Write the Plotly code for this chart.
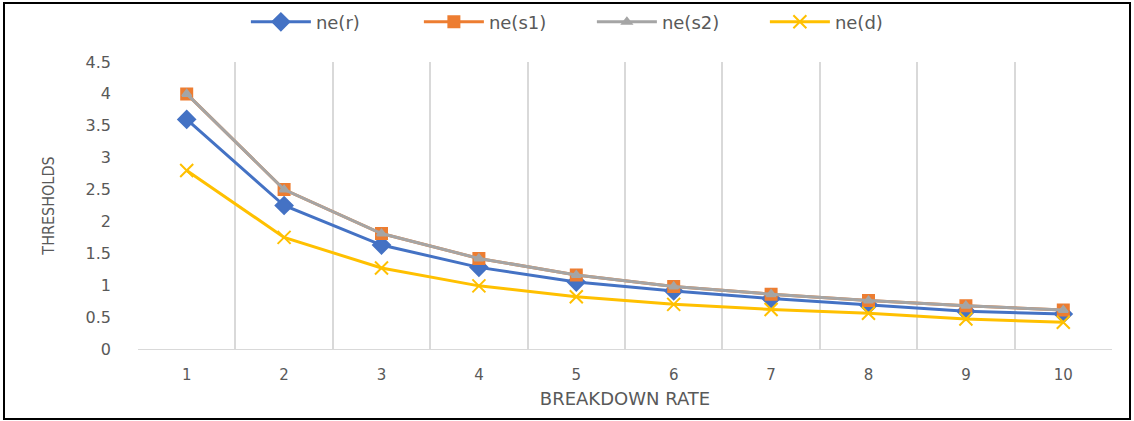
import plotly.graph_objects as go

# Breakdown rate categories and threshold series
rates = [1, 2, 3, 4, 5, 6, 7, 8, 9, 10]
ne_r = [3.6, 2.25, 1.63, 1.28, 1.05, 0.91, 0.79, 0.69, 0.59, 0.55]
ne_s1 = [4.0, 2.5, 1.81, 1.42, 1.16, 0.98, 0.86, 0.76, 0.68, 0.61]
ne_s2 = [4.0, 2.5, 1.81, 1.42, 1.16, 0.98, 0.86, 0.76, 0.68, 0.61]
ne_d = [2.8, 1.75, 1.27, 0.99, 0.82, 0.7, 0.62, 0.56, 0.47, 0.42]
y_ticks = [0, 0.5, 1, 1.5, 2, 2.5, 3, 3.5, 4, 4.5]
y_tick_text = ["0", "0.5", "1", "1.5", "2", "2.5", "3", "3.5", "4", "4.5"]

series = [
    ("ne(r)", ne_r, "#4472C4", "diamond", 13),
    ("ne(s1)", ne_s1, "#ED7D31", "square", 11),
    ("ne(s2)", ne_s2, "#A5A5A5", "triangle-up", 8),
    ("ne(d)", ne_d, "#FFC000", "x-thin", 13),
]

TEXT = "#595959"
FONT = "DejaVu Sans, sans-serif"

fig = go.Figure()
for name, vals, color, symbol, size in series:
    fig.add_trace(go.Scatter(
        x=rates, y=vals, name=name, mode="lines+markers",
        line=dict(color=color, width=3),
        marker=dict(symbol=symbol, size=size, color=color,
                    line=dict(color=color, width=2)),
    ))

fig.update_layout(
    width=1134, height=421,
    margin=dict(l=138, r=22, t=62, b=72, autoexpand=False),
    paper_bgcolor="white", plot_bgcolor="white",
    font=dict(family=FONT, color=TEXT, size=14),
    legend=dict(orientation="h", x=0.466, xanchor="center", y=1.139, yanchor="middle",
                font=dict(size=18, color=TEXT), itemwidth=60,
                entrywidth=98, entrywidthmode="pixels",
                bgcolor="rgba(0,0,0,0)"),
    xaxis=dict(
        range=[0.5, 10.5], tickvals=rates, ticktext=[str(r) for r in rates],
        showgrid=False, zeroline=False, showline=True, linecolor="#D9D9D9", linewidth=1,
        ticks="", ticklabelstandoff=12,
        minor=dict(tick0=0.5, dtick=1, showgrid=True, gridcolor="#D9D9D9", gridwidth=1.5),
        title=dict(text="BREAKDOWN RATE", font=dict(size=18, color=TEXT), standoff=9),
        tickfont=dict(size=15, color=TEXT),
    ),
    yaxis=dict(
        range=[0, 4.5], tickvals=y_ticks, ticktext=y_tick_text,
        showgrid=False, zeroline=False, showline=False, ticks="",
        ticklabelstandoff=26,
        title=dict(text="THRESHOLDS",
                   font=dict(size=16, color=TEXT, family="DejaVu Sans Condensed, Liberation Sans Narrow"),
                   standoff=26),
        tickfont=dict(size=16, color=TEXT),
    ),
    shapes=[dict(type="rect", xref="paper", yref="paper",
                 x0=-134 / 974, x1=992 / 974, y0=-70 / 287, y1=346 / 287,
                 line=dict(color="black", width=2), fillcolor="rgba(0,0,0,0)", layer="below")],
)

fig.write_html("out.html")
